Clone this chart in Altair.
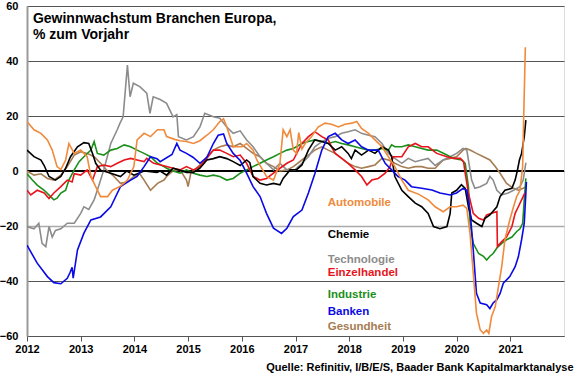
import altair as alt
import pandas as pd

FONT = "Liberation Sans, Arial, Helvetica, sans-serif"

series_names = ["Gesundheit", "Technologie", "Industrie", "Einzelhandel", "Chemie", "Banken", "Automobile"]
series_colors = ["#A67C52", "#8C8C8C", "#1A8F1A", "#E8141B", "#000000", "#0A0AE6", "#F08A3C"]

automobile = [(2012.0,18),(2012.13,15),(2012.26,13.7),(2012.38,11.3),(2012.47,7.6),(2012.56,1.6),(2012.63,0.5),(2012.72,4),(2012.78,10),(2012.88,6.4),(2013.0,7.6),(2013.12,5.2),(2013.19,-2),(2013.25,-4.5),(2013.37,-9.3),(2013.5,-9.3),(2013.59,-7),(2013.74,-5.5),(2013.87,-3.3),(2013.99,1.6),(2014.05,11.3),(2014.18,13.7),(2014.3,12.5),(2014.43,15),(2014.55,15),(2014.6,12.5),(2014.75,11.5),(2014.85,11),(2014.97,10.7),(2015.1,10),(2015.22,11),(2015.35,13),(2015.47,15),(2015.59,18),(2015.66,19),(2015.72,16),(2015.78,12.5),(2015.84,8.8),(2016.0,8.8),(2016.09,10),(2016.21,7.6),(2016.28,4),(2016.46,-2),(2016.59,-3.3),(2016.71,2.8),(2016.77,15),(2016.84,12.5),(2016.9,15),(2016.96,7.6),(2017.02,6.4),(2017.06,14),(2017.12,8),(2017.18,10),(2017.3,12.5),(2017.42,16),(2017.55,17.4),(2017.67,17),(2017.8,16),(2017.92,17),(2018.05,17.4),(2018.14,18),(2018.23,15.5),(2018.36,13.7),(2018.48,11.3),(2018.61,8.8),(2018.73,5.2),(2018.85,1.6),(2018.98,-3.3),(2019.1,-7),(2019.29,-8.4),(2019.47,-10.5),(2019.6,-13),(2019.75,-14.8),(2019.88,-13),(2020.0,-13),(2020.12,-12.4),(2020.19,-13.6),(2020.25,-22.7),(2020.31,-37.2),(2020.37,-51.7),(2020.44,-57.8),(2020.5,-59),(2020.56,-57.8),(2020.6,-59),(2020.65,-53),(2020.72,-49.3),(2020.78,-42),(2020.84,-34.8),(2020.9,-25),(2020.99,-17.8),(2021.06,-13),(2021.12,-9.3),(2021.18,-7),(2021.23,1.6),(2021.25,20),(2021.28,45)]

chemie = [(2012.0,7.6),(2012.13,5.2),(2012.26,4),(2012.32,2),(2012.41,-2),(2012.53,-3.3),(2012.63,-2),(2012.72,1),(2012.81,5.2),(2012.94,8.8),(2013.06,10.3),(2013.15,10),(2013.22,6.4),(2013.28,2.8),(2013.37,0.3),(2013.56,-0.8),(2013.74,-2),(2013.86,0),(2013.99,-1.5),(2014.18,0),(2014.42,-0.5),(2014.48,0),(2014.6,-1.5),(2014.72,1),(2014.97,-0.5),(2015.1,-0.5),(2015.22,1),(2015.35,4),(2015.47,4.5),(2015.59,5.2),(2015.72,4.5),(2015.84,3.4),(2015.97,2),(2016.09,4),(2016.15,3),(2016.21,-2),(2016.34,-4.5),(2016.46,-5.1),(2016.59,-4.5),(2016.71,-5),(2016.77,-2.7),(2016.9,0.4),(2017.02,0.5),(2017.12,2.2),(2017.24,7.6),(2017.36,11.3),(2017.49,10.7),(2017.61,10),(2017.74,7.6),(2017.86,8.8),(2017.98,6.4),(2018.04,4.5),(2018.11,7.6),(2018.23,5.8),(2018.36,7.6),(2018.48,6.4),(2018.61,8.8),(2018.73,7.6),(2018.79,5.2),(2018.85,-2),(2018.98,-7),(2019.1,-9.3),(2019.23,-11.7),(2019.35,-13),(2019.47,-15.4),(2019.57,-20.2),(2019.69,-21),(2019.82,-20.2),(2019.88,-15.4),(2019.91,-8),(2020.0,-7),(2020.09,-5),(2020.16,-6.3),(2020.22,-13),(2020.28,-17.8),(2020.37,-19),(2020.47,-20.2),(2020.53,-17.2),(2020.62,-16),(2020.75,-13),(2020.81,-9.3),(2020.9,-7),(2021.03,-6.3),(2021.09,-3.3),(2021.13,0),(2021.17,4),(2021.21,6.4),(2021.26,12.5),(2021.29,18.5)]

technologie = [(2012.0,-20.2),(2012.13,-21),(2012.22,-19),(2012.28,-26.3),(2012.35,-27.5),(2012.41,-20.2),(2012.47,-24),(2012.53,-21.6),(2012.63,-21),(2012.75,-19),(2012.88,-19),(2013.0,-15.4),(2013.06,-13),(2013.15,-14),(2013.25,-10.5),(2013.31,-7),(2013.43,0.4),(2013.56,10),(2013.68,15),(2013.73,17.3),(2013.79,19.7),(2013.87,38.5),(2013.92,27),(2013.98,31.9),(2014.1,30.7),(2014.23,28.3),(2014.29,21),(2014.35,27),(2014.48,26),(2014.6,24.6),(2014.72,19.7),(2014.79,20.5),(2014.82,12.5),(2014.97,11.3),(2015.1,12.5),(2015.22,16),(2015.31,21),(2015.47,19.7),(2015.59,19.2),(2015.72,16),(2015.84,13.7),(2015.97,14.6),(2016.09,11.3),(2016.21,8.8),(2016.34,5.2),(2016.46,2.8),(2016.59,0.4),(2016.71,2.8),(2016.84,0.4),(2016.99,0.4),(2017.12,2.8),(2017.24,5.2),(2017.36,8.8),(2017.49,10.7),(2017.61,11.9),(2017.74,12.5),(2017.86,13.7),(2017.98,14.3),(2018.11,15),(2018.23,13.7),(2018.36,13),(2018.48,12.5),(2018.61,10),(2018.73,6.4),(2018.85,4.6),(2018.98,2.8),(2019.1,4.6),(2019.23,3.4),(2019.35,4),(2019.47,4.6),(2019.6,2),(2019.75,4),(2019.88,5.2),(2020.0,6.4),(2020.12,8.2),(2020.19,7.6),(2020.22,4),(2020.28,-3.3),(2020.34,-6.3),(2020.44,-5.7),(2020.56,-4.5),(2020.62,-2),(2020.68,-3.3),(2020.75,-7),(2020.84,-8.7),(2020.96,-8),(2021.06,-7),(2021.18,-5.7),(2021.24,-3.3),(2021.29,3)]

einzelhandel = [(2012.0,-7),(2012.07,-8.7),(2012.19,-7),(2012.32,-8),(2012.41,-10),(2012.5,-8),(2012.63,-5.7),(2012.75,-3.3),(2012.84,-4),(2012.88,-1),(2013.0,-1.5),(2013.12,0.4),(2013.22,-3.3),(2013.31,1.6),(2013.43,2.2),(2013.56,1.6),(2013.68,2.8),(2013.81,4),(2013.93,4.6),(2014.05,4),(2014.18,3.4),(2014.23,4.6),(2014.36,2.8),(2014.49,2.2),(2014.6,1.6),(2014.72,1),(2014.85,0.4),(2014.97,1.6),(2015.1,0.4),(2015.22,1.6),(2015.35,4.6),(2015.47,7.6),(2015.59,7.6),(2015.72,6.4),(2015.84,5.2),(2015.97,5.8),(2016.09,2.8),(2016.21,-2),(2016.34,-3.3),(2016.46,-2.7),(2016.59,-0.8),(2016.71,1),(2016.84,2.8),(2016.96,4),(2017.12,10),(2017.24,12.5),(2017.36,14.3),(2017.49,12.5),(2017.61,11.3),(2017.67,8.8),(2017.74,6.4),(2017.86,4.6),(2017.98,2.8),(2018.11,0.4),(2018.23,-2),(2018.33,-5.1),(2018.42,-3.3),(2018.54,-2.7),(2018.67,-0.8),(2018.76,1.6),(2018.82,5.2),(2018.98,5.2),(2019.1,8.8),(2019.23,10),(2019.35,8.8),(2019.47,8.8),(2019.63,6.4),(2019.82,5.2),(2019.94,4.6),(2020.07,4.6),(2020.13,3.4),(2020.16,-0.8),(2020.22,-8),(2020.31,-15.4),(2020.41,-17.2),(2020.5,-17.8),(2020.56,-16),(2020.65,-15.4),(2020.75,-14.8),(2020.76,-27.5),(2020.84,-25.7),(2020.93,-24),(2021.03,-20.2),(2021.09,-15.4),(2021.15,-13),(2021.21,-10.5),(2021.27,-8)]

industrie = [(2012.0,-1),(2012.1,-3.3),(2012.19,-5.1),(2012.32,-7),(2012.44,-9.3),(2012.5,-10.5),(2012.56,-9.9),(2012.63,-8),(2012.72,-7),(2012.78,-3.3),(2012.88,0.4),(2012.97,3.4),(2013.06,5.2),(2013.19,7.6),(2013.25,10.7),(2013.31,6.4),(2013.43,5.8),(2013.56,7.6),(2013.68,8.2),(2013.81,9.5),(2013.93,8.8),(2014.05,7.6),(2014.18,6.4),(2014.3,5.2),(2014.43,2.8),(2014.55,1.6),(2014.6,1),(2014.72,0),(2014.85,-0.8),(2014.97,0.4),(2015.1,-0.8),(2015.22,-1.5),(2015.35,-2),(2015.47,-1.5),(2015.59,-2),(2015.72,-3.3),(2015.84,-2.7),(2015.97,-0.8),(2016.09,0.4),(2016.21,1.6),(2016.34,2.8),(2016.46,4),(2016.59,5.2),(2016.71,6.4),(2016.84,7.6),(2016.96,8.2),(2017.12,10),(2017.24,10.7),(2017.36,11.3),(2017.49,10.7),(2017.61,10),(2017.74,10.7),(2017.86,10),(2017.98,9.5),(2018.11,8.8),(2018.23,8.2),(2018.36,7.6),(2018.48,7.6),(2018.61,8.2),(2018.73,7.6),(2018.79,9.5),(2018.85,8.8),(2018.98,8.8),(2019.1,9.5),(2019.23,8.8),(2019.35,8.2),(2019.47,7.6),(2019.63,7.6),(2019.82,5.8),(2019.94,4.6),(2020.09,4),(2020.16,2.8),(2020.22,-5.7),(2020.25,-19),(2020.31,-26.3),(2020.41,-30),(2020.5,-31),(2020.56,-32.4),(2020.62,-31),(2020.68,-30),(2020.75,-28),(2020.84,-26.3),(2020.93,-25),(2021.03,-24),(2021.12,-22),(2021.18,-21),(2021.23,-19),(2021.26,-10.5),(2021.29,-2.7)]

banken = [(2012.0,-27),(2012.19,-33.5),(2012.38,-38.4),(2012.5,-40.6),(2012.63,-41),(2012.75,-39),(2012.8,-37),(2012.84,-35),(2012.86,-39),(2012.94,-28.7),(2013.06,-22.6),(2013.19,-17.8),(2013.37,-16.7),(2013.56,-13),(2013.74,-5.7),(2013.93,-3.3),(2014.05,-2),(2014.18,1.6),(2014.3,5.2),(2014.42,4.5),(2014.48,3.4),(2014.7,6),(2014.79,10),(2014.85,7.6),(2014.97,6.4),(2015.09,5),(2015.22,2.8),(2015.35,5),(2015.47,10),(2015.56,13),(2015.66,13.5),(2015.72,10),(2015.84,6.4),(2015.97,3.8),(2016.09,-0.8),(2016.21,-5.7),(2016.34,-9.3),(2016.46,-15.4),(2016.59,-20.8),(2016.74,-22.7),(2016.84,-20.8),(2016.96,-16.6),(2017.12,-14.2),(2017.24,-8),(2017.36,-1),(2017.49,7.6),(2017.61,12.5),(2017.74,13.7),(2017.86,11.3),(2017.98,10),(2018.11,11.3),(2018.23,8.8),(2018.36,7.6),(2018.54,7.6),(2018.67,2.8),(2018.79,0.4),(2018.91,-2),(2019.04,-3.3),(2019.16,-5.7),(2019.35,-6.3),(2019.54,-6.9),(2019.69,-8),(2019.88,-8.7),(2020.0,-8),(2020.12,-6.3),(2020.19,-7),(2020.25,-14.2),(2020.31,-28.7),(2020.37,-44.5),(2020.44,-48),(2020.56,-48.6),(2020.62,-50),(2020.68,-48),(2020.75,-46.8),(2020.81,-44.5),(2020.87,-40.8),(2020.99,-38.4),(2021.09,-34.8),(2021.15,-31.2),(2021.21,-25),(2021.26,-19),(2021.29,-8),(2021.3,-4)]

gesundheit = [(2012.0,0),(2012.13,-1.5),(2012.26,-1),(2012.38,-2.7),(2012.5,-3.3),(2012.63,-1.5),(2012.75,1.6),(2012.88,5.8),(2013.0,7),(2013.12,6.4),(2013.25,5.2),(2013.37,2.8),(2013.5,0),(2013.62,-2),(2013.74,-4.5),(2013.87,-4),(2013.99,-2),(2014.1,-1),(2014.18,-3.3),(2014.3,-7),(2014.43,-4.5),(2014.55,-3.3),(2014.6,-2),(2014.72,0),(2014.85,0.4),(2014.97,-3.3),(2015.0,-5.7),(2015.05,-0.8),(2015.22,2.2),(2015.35,5.2),(2015.47,7.6),(2015.59,8.8),(2015.72,9.5),(2015.84,8.8),(2015.97,10),(2016.09,8.2),(2016.21,6.4),(2016.34,5.2),(2016.46,2.8),(2016.59,1.6),(2016.71,0),(2016.84,0.4),(2016.96,1.6),(2017.12,4),(2017.24,5.8),(2017.36,7.6),(2017.49,8.8),(2017.61,7.6),(2017.74,6.4),(2017.86,4.6),(2017.98,2.8),(2018.11,1.6),(2018.23,1),(2018.36,1.6),(2018.48,2.2),(2018.61,4.6),(2018.73,4),(2018.85,2.8),(2018.98,1.6),(2019.1,1),(2019.23,1.6),(2019.35,1.6),(2019.47,1),(2019.6,1),(2019.75,4),(2019.88,4.6),(2020.0,5.2),(2020.12,7.6),(2020.17,8.2),(2020.25,7.6),(2020.37,6.4),(2020.5,5.2),(2020.62,4),(2020.72,1.6),(2020.81,-0.8),(2020.93,-4.5),(2021.06,-6.3),(2021.15,-7),(2021.24,-6.3),(2021.29,-5.7)]

series_data = {
    "Gesundheit": gesundheit,
    "Technologie": technologie,
    "Industrie": industrie,
    "Einzelhandel": einzelhandel,
    "Chemie": chemie,
    "Banken": banken,
    "Automobile": automobile,
}

# legend labels (name, x-year, y-value)
label_names = ["Automobile", "Chemie", "Technologie", "Einzelhandel", "Industrie", "Banken", "Gesundheit"]
label_colors = ["#F08A3C", "#000000", "#8C8C8C", "#E8141B", "#1A8F1A", "#0A0AE6", "#A67C52"]
label_x = [2017.6] * 7
label_y = [-11.6, -23.3, -32.4, -37.1, -45.1, -51.3, -56.7]

title_lines = ["Gewinnwachstum Branchen Europa,", "% zum Vorjahr"]
title_y = [55.3, 49.5]
title_x = [2012.11, 2012.11]

source_text = "Quelle: Refinitiv, I/B/E/S, Baader Bank Kapitalmarktanalyse"
x_ticks = list(range(2012, 2022))
y_ticks = [-60, -40, -20, 0, 20, 40, 60]

rows = []
for order, name in enumerate(series_names):
    for t, v in series_data[name]:
        rows.append({"series": name, "t": t, "v": v, "order": order})
df = pd.DataFrame(rows)

labels_df = pd.DataFrame({"name": label_names, "t": label_x, "v": label_y, "c": label_colors})
title_df = pd.DataFrame({"txt": title_lines, "t": title_x, "v": title_y})

xscale = alt.Scale(domain=[2012, 2022], nice=False, zero=False)
yscale = alt.Scale(domain=[-60, 60], nice=False)

x_axis = alt.Axis(
    values=x_ticks, format="d", grid=False, tickSize=5, tickColor="#555", domainColor="#555",
    labelFont=FONT, labelFontWeight="bold", labelFontSize=11, labelColor="#000", labelPadding=2,
    labelFlush=False,
    title=source_text, titleFont=FONT, titleFontWeight="bold", titleFontSize=11, titleColor="#000",
    titleAnchor="end", titleAlign="right", titleBaseline="alphabetic", titleX=546, titleY=34,
)
y_axis = alt.Axis(
    values=y_ticks, grid=True, ticks=False, domainColor="#9a9a9a", domainWidth=2,
    gridColor={"condition": {"test": "datum.value === -20", "value": "#aaaaaa"}, "value": "#555555"},
    gridWidth={"condition": {"test": "datum.value === -20", "value": 1.5}, "value": 1},
    labelFont=FONT, labelFontWeight="bold", labelFontSize=11, labelColor="#000", labelPadding=9,
    labelFlush=False,
    title=None,
)

lines = alt.Chart(df).mark_line(strokeWidth=1.6, clip=True).encode(
    x=alt.X("t:Q", scale=xscale, axis=x_axis),
    y=alt.Y("v:Q", scale=yscale, axis=y_axis),
    color=alt.Color("series:N", scale=alt.Scale(domain=series_names, range=series_colors), legend=None),
    detail="series:N",
    order="t:Q",
)

zero = alt.Chart(pd.DataFrame({"v": [0]})).mark_rule(color="#000", strokeWidth=2).encode(
    y=alt.Y("v:Q", scale=yscale)
)

labels = alt.Chart(labels_df).mark_text(
    align="left", baseline="middle", font=FONT, fontWeight="bold", fontSize=11.5
).encode(
    x=alt.X("t:Q", scale=xscale), y=alt.Y("v:Q", scale=yscale),
    text="name:N", color=alt.Color("c:N", scale=None),
)

title = alt.Chart(title_df).mark_text(
    align="left", baseline="middle", font=FONT, fontWeight="bold", fontSize=14, color="#000"
).encode(
    x=alt.X("t:Q", scale=xscale), y=alt.Y("v:Q", scale=yscale), text="txt:N",
)

chart = alt.layer(zero, lines, labels, title).properties(
    width=537, height=330,
    autosize=alt.AutoSizeParams(type="none"),
    padding={"left": 27, "top": 6, "right": 16, "bottom": 39},
).configure_view(stroke="#666", strokeWidth=1).configure(background="white")

chart.save("out.html", embed_options={"renderer": "svg", "actions": False})
